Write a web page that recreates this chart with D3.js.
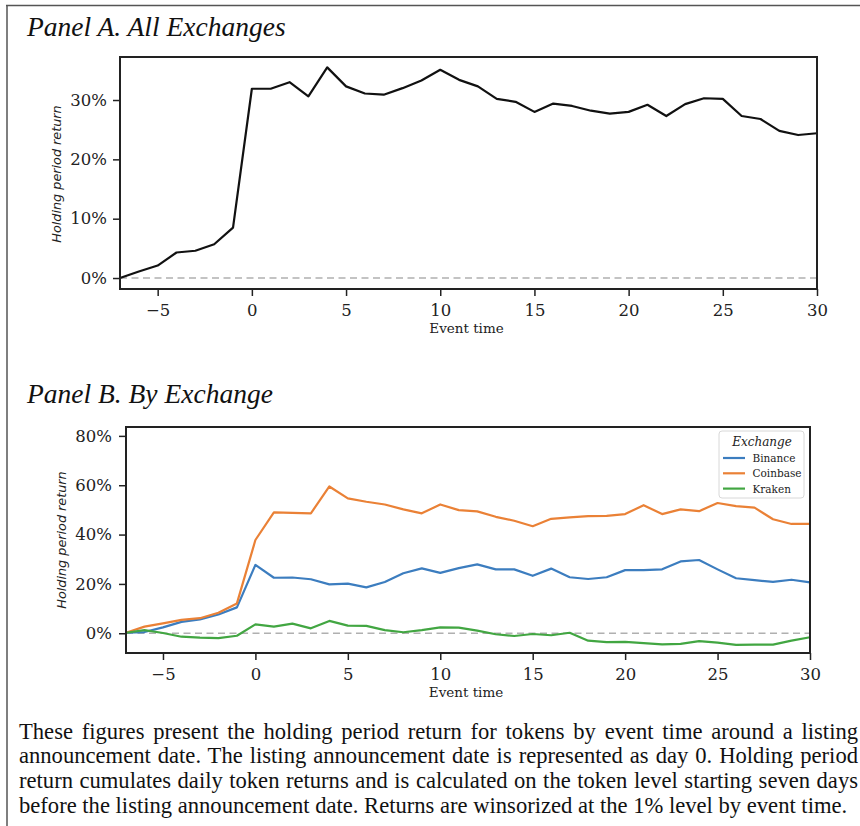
<!DOCTYPE html>
<html>
<head>
<meta charset="utf-8">
<script src="https://cdn.jsdelivr.net/npm/d3@7"></script>
<style>
  html, body { margin: 0; padding: 0; background: #fff; }
  svg { display: block; }
</style>
</head>
<body>
<svg id="chart" width="860" height="826"></svg>
<script>
// ---------------- DATA ----------------
const eventTime = d3.range(-7, 31); // -7 .. 30
const allExchanges = [0.0, 1.1, 2.1, 4.3, 4.6, 5.7, 8.5, 31.9, 31.9, 33.0, 30.6, 35.5, 32.3, 31.1, 30.9, 32.0, 33.3,
  35.1, 33.4, 32.3, 30.2, 29.7, 28.0, 29.4, 29.0, 28.2, 27.7, 28.0, 29.2, 27.3, 29.3, 30.3, 30.2, 27.3, 26.8, 24.8, 24.1, 24.4];
const binance = [0.2, 0.5, 2.4, 4.6, 5.6, 7.6, 10.5, 27.7, 22.5, 22.6, 21.9, 19.8, 20.1, 18.6, 20.8, 24.3, 26.3,
  24.5, 26.4, 27.9, 25.9, 25.9, 23.3, 26.2, 22.7, 22.0, 22.7, 25.6, 25.6, 25.9, 29.1, 29.7, 25.9, 22.3, 21.5, 20.8, 21.7, 20.6];
const coinbase = [0.2, 2.7, 4.0, 5.4, 6.1, 8.3, 12.1, 37.8, 49.0, 48.8, 48.6, 59.5, 54.7, 53.3, 52.2, 50.2, 48.6,
  52.2, 49.9, 49.4, 47.2, 45.6, 43.4, 46.4, 47.0, 47.5, 47.6, 48.3, 51.9, 48.3, 50.2, 49.5, 52.8, 51.5, 50.9, 46.2, 44.3, 44.3];
const kraken = [0.2, 1.3, 0.1, -1.4, -1.8, -2.0, -1.0, 3.6, 2.7, 3.9, 2.0, 5.0, 3.1, 3.0, 1.3, 0.4, 1.3,
  2.4, 2.3, 1.1, -0.4, -1.1, -0.3, -0.8, 0.2, -3.0, -3.6, -3.5, -4.0, -4.5, -4.3, -3.2, -3.8, -4.7, -4.6, -4.6, -3.0, -1.6];
const exchanges = ["Binance", "Coinbase", "Kraken"];
const xTicks = [-5, 0, 5, 10, 15, 20, 25, 30];
const yTicksA = [0, 10, 20, 30];
const yTicksB = [0, 20, 40, 60, 80];
const titleA = "Panel A. All Exchanges";
const titleB = "Panel B. By Exchange";
const captionLines = [
  "These figures present the holding period return for tokens by event time around a listing",
  "announcement date. The listing announcement date is represented as day 0. Holding period",
  "return cumulates daily token returns and is calculated on the token level starting seven days",
  "before the listing announcement date. Returns are winsorized at the 1% level by event time."
];

// ---------------- STYLE ----------------
const colors = { Binance: "#3c7dbf", Coinbase: "#ea8136", Kraken: "#42a642" };
const serif = "'DejaVu Serif', serif";
const sans = "'DejaVu Sans', sans-serif";
const times = "'Liberation Serif', 'Times New Roman', serif";

const svg = d3.select("#chart");

// frame lines (top and left)
svg.append("line").attr("x1", 6).attr("x2", 860).attr("y1", 5.5).attr("y2", 5.5)
  .attr("stroke", "#555").attr("stroke-width", 1.5);
svg.append("line").attr("x1", 7).attr("x2", 7).attr("y1", 5).attr("y2", 826)
  .attr("stroke", "#555").attr("stroke-width", 1.5);

// panel titles
svg.append("text").attr("x", 27).attr("y", 36).attr("font-family", times).attr("font-style", "italic")
  .attr("font-size", 27.5).attr("fill", "#111").text(titleA);
svg.append("text").attr("x", 27).attr("y", 403).attr("font-family", times).attr("font-style", "italic")
  .attr("font-size", 27.5).attr("fill", "#111").text(titleB);

function panel(cfg) {
  const x = d3.scaleLinear().domain([-7, 30]).range([cfg.left, cfg.right]);
  const y = d3.scaleLinear().domain(cfg.yDomain).range([cfg.bottom, cfg.top]);
  const g = svg.append("g");

  // zero dashed line
  g.append("line").attr("x1", cfg.left).attr("x2", cfg.right)
    .attr("y1", y(0)).attr("y2", y(0))
    .attr("stroke", "#b0b0b0").attr("stroke-width", 1.5).attr("stroke-dasharray", "7,4.5");

  const line = d3.line().x((d, i) => x(eventTime[i])).y(d => y(d));
  cfg.series.forEach(s => {
    g.append("path").datum(s.values).attr("d", line).attr("fill", "none")
      .attr("stroke", s.color).attr("stroke-width", cfg.lineWidth).attr("stroke-linejoin", "round");
  });

  // axes
  const xAxis = d3.axisBottom(x).tickValues(xTicks).tickSize(7).tickPadding(8)
    .tickFormat(d => d < 0 ? "\u2212" + Math.abs(d) : d);
  const gx = g.append("g").attr("transform", `translate(0,${cfg.bottom})`).call(xAxis);
  const yAxis = d3.axisLeft(y).tickValues(cfg.yTicks).tickSize(7).tickPadding(cfg.yPad).tickFormat(d => d + "%");
  const gy = g.append("g").attr("transform", `translate(${cfg.left},0)`).call(yAxis);
  [gx, gy].forEach(a => {
    a.select(".domain").remove();
    a.selectAll(".tick line").attr("stroke", "#222").attr("stroke-width", 1.5);
    a.selectAll(".tick text").attr("font-family", serif).attr("font-size", 16.5).attr("fill", "#222");
  });

  // frame
  g.append("rect").attr("x", cfg.left).attr("y", cfg.top)
    .attr("width", cfg.right - cfg.left).attr("height", cfg.bottom - cfg.top)
    .attr("fill", "none").attr("stroke", "#222").attr("stroke-width", 2);

  // axis labels
  g.append("text").attr("x", (cfg.left + cfg.right) / 2 - 2).attr("y", cfg.bottom + 44)
    .attr("text-anchor", "middle").attr("font-family", serif).attr("font-size", 13.5)
    .attr("fill", "#222").text("Event time");
  g.append("text").attr("transform", `translate(${cfg.ylabX},${cfg.ylabY}) rotate(-90)`)
    .attr("text-anchor", "middle").attr("font-family", sans).attr("font-style", "italic")
    .attr("font-size", 12.8).attr("fill", "#222").text("Holding period return");
  return { x, y, g };
}

panel({
  left: 120, right: 817, top: 57, bottom: 289, yDomain: [-1.85, 37.25], yTicks: yTicksA, yPad: 6,
  series: [{ values: allExchanges, color: "#111" }], lineWidth: 2.2, ylabX: 61, ylabY: 174
});

panel({
  left: 126, right: 810, top: 427, bottom: 653, yDomain: [-8.0, 83.6], yTicks: yTicksB, yPad: 7,
  series: [
    { values: binance, color: colors.Binance },
    { values: coinbase, color: colors.Coinbase },
    { values: kraken, color: colors.Kraken }
  ], lineWidth: 2.2, ylabX: 66, ylabY: 540
});

// legend
const lg = svg.append("g").attr("transform", "translate(719,431)");
lg.append("rect").attr("width", 85).attr("height", 67).attr("rx", 3)
  .attr("fill", "#fff").attr("fill-opacity", 0.85).attr("stroke", "#d8d8d8").attr("stroke-width", 1);
lg.append("text").attr("x", 43).attr("y", 15).attr("text-anchor", "middle")
  .attr("font-family", serif).attr("font-style", "italic").attr("font-size", 12).attr("fill", "#222").text("Exchange");
exchanges.forEach((e, i) => {
  const yy = 27 + i * 15.3;
  lg.append("line").attr("x1", 4).attr("x2", 26).attr("y1", yy).attr("y2", yy)
    .attr("stroke", colors[e]).attr("stroke-width", 2.2);
  lg.append("text").attr("x", 33.5).attr("y", yy + 4).attr("font-family", serif)
    .attr("font-size", 10.5).attr("fill", "#222").text(e);
});

// caption (justified lines)
const capLeft = 19, capRight = 858;
captionLines.forEach((t, i) => {
  const el = svg.append("text").attr("x", capLeft).attr("y", 738.5 + i * 24.8)
    .attr("font-family", times).attr("font-size", 22.6).attr("fill", "#111").text(t);
  if (i < captionLines.length - 1) {
    const w = el.node().getComputedTextLength();
    const spaces = (t.match(/ /g) || []).length;
    el.attr("word-spacing", Math.max(0, ((capRight - capLeft) - w) / spaces));
  }
});
</script>
</body>
</html>
